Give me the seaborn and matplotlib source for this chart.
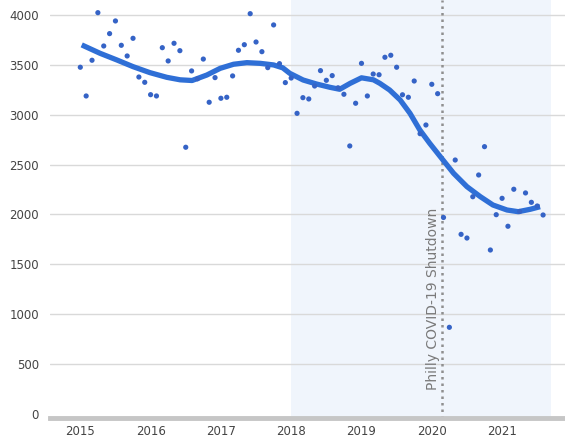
import numpy as np
import pandas as pd
import matplotlib
matplotlib.use("Agg")
import matplotlib.pyplot as plt
import seaborn as sns

# Monthly values, Jan 2015 onward
monthly_values = [
    3476, 3188, 3546, 4023, 3689, 3813, 3940, 3696, 3589, 3766, 3378, 3325,
    3201, 3188, 3672, 3539, 3716, 3642, 2674, 3439, 3360, 3558, 3125, 3372,
    3165, 3175, 3389, 3646, 3702, 4013, 3729, 3632, 3472, 3900, 3512, 3322,
    3368, 3014, 3171, 3158, 3288, 3442, 3345, 3392, 3270, 3205, 2687, 3115,
    3515, 3188, 3408, 3401, 3576, 3596, 3476, 3200, 3175, 3338, 2810, 2897,
    3305, 3211, 1970, 869, 2546, 1801, 1764, 2178, 2396, 2680, 1644, 1998,
    2162, 1882, 2253, 2030, 2216, 2122, 2085, 1995,
]
start_year = 2015

# Trend line (years since Jan 2015, value)
trend_years = [0.02, 0.28, 0.52, 0.75, 0.99, 1.23, 1.42, 1.59, 1.80, 1.99,
               2.18, 2.37, 2.56, 2.75, 2.88, 2.98, 3.17, 3.36, 3.55, 3.69,
               3.84, 4.00, 4.17, 4.26, 4.40, 4.55, 4.69, 4.83, 4.97, 5.14,
               5.31, 5.50, 5.69, 5.87, 6.07, 6.23, 6.40, 6.54]
trend_values = [3700, 3616, 3549, 3482, 3422, 3375, 3350, 3343, 3398, 3465,
                3506, 3522, 3515, 3499, 3470, 3415, 3348, 3308, 3275, 3255,
                3315, 3370, 3350, 3315, 3248, 3148, 3014, 2847, 2714, 2563,
                2413, 2279, 2179, 2095, 2045, 2028, 2052, 2078]

year_ticks = [2015, 2016, 2017, 2018, 2019, 2020, 2021]
year_labels = ["2015", "2016", "2017", "2018", "2019", "2020", "2021"]
value_ticks = [0, 500, 1000, 1500, 2000, 2500, 3000, 3500, 4000]

shade_start, shade_end = 2018.0, 2021.69
shutdown_date = 2020.15
shutdown_label = "Philly COVID-19 Shutdown"

df = pd.DataFrame({
    "x": start_year + np.arange(len(monthly_values)) / 12.0,
    "value": monthly_values,
})
trend = pd.DataFrame({
    "x": start_year + np.array(trend_years),
    "value": trend_values,
})

sns.set_theme(style="white")
plt.rcParams["font.family"] = ["DejaVu Sans"]

fig = plt.figure(figsize=(5.65, 4.42), dpi=100)
ax = fig.add_axes([50 / 565, 24 / 442, 515 / 565, 418 / 442])

ax.axvspan(shade_start, shade_end, color="#f0f5fc", zorder=0, lw=0)
for v in value_ticks[1:]:
    ax.axhline(v, color="#d9d9d9", lw=1, zorder=1)

ax.axvline(shutdown_date, color="#8f8f8f", lw=1.8, ls=(0, (1.0, 1.6)), zorder=2)

sns.lineplot(data=trend, x="x", y="value", ax=ax, color="#2f6fd6", lw=3.8,
             zorder=4, solid_capstyle="butt")
sns.scatterplot(data=df, x="x", y="value", ax=ax, color="#3563c6", s=14,
                edgecolor="none", zorder=5)

ax.text(shutdown_date - 0.135, 240, shutdown_label, rotation=90, ha="center",
        va="bottom", fontsize=10, color="#7a7a7a", zorder=3)

ax.set_xlim(2014.569, 2021.895)
ax.set_ylim(-40, 4150)
ax.set_xticks(year_ticks)
ax.set_xticklabels(year_labels)
ax.set_yticks(value_ticks)
ax.set_yticklabels([str(v) for v in value_ticks])
ax.tick_params(axis="both", length=0, labelsize=8.5, labelcolor="#444444")
ax.tick_params(axis="x", pad=5)
ax.tick_params(axis="y", pad=8)
ax.set_xlabel("")
ax.set_ylabel("")

for s in ["top", "right", "left"]:
    ax.spines[s].set_visible(False)
ax.spines["bottom"].set_color("#c6c6c6")
ax.spines["bottom"].set_linewidth(3.5)

fig.savefig("out.png", dpi=100)
